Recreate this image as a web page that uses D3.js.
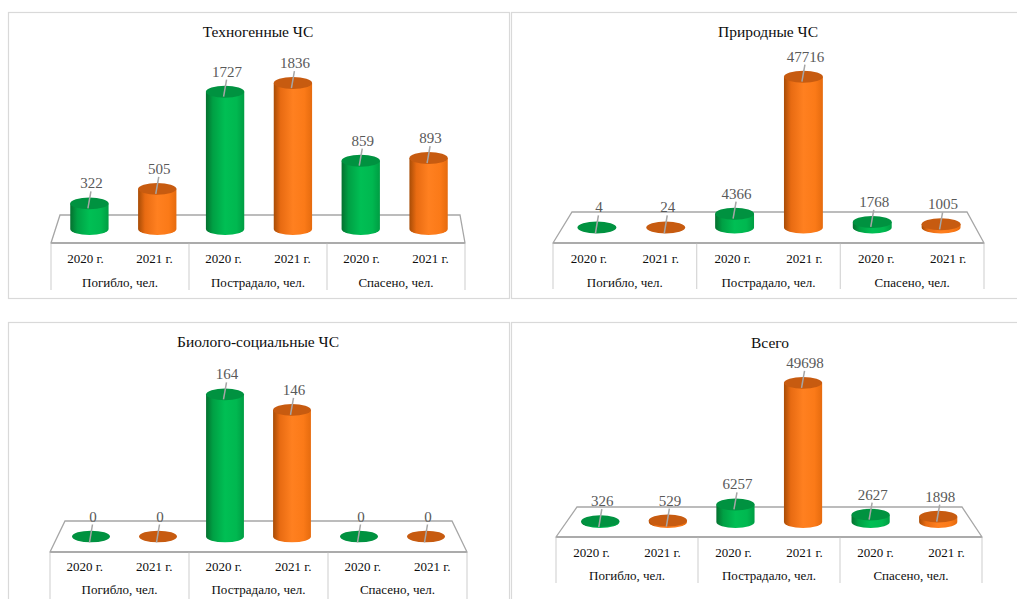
<!DOCTYPE html>
<html><head><meta charset="utf-8">
<script src="https://cdn.jsdelivr.net/npm/d3@7"></script>
<style>
html,body{margin:0;padding:0;background:#fff;overflow:hidden;}
svg{display:block;}
svg text{font-family:"Liberation Serif","Times New Roman",serif;}
</style></head>
<body>
<svg id="chart" width="1017" height="599"></svg>
<script>
// ---------- DATA ----------
const groups = ["Погибло, чел.", "Пострадало, чел.", "Спасено, чел."];
const years = ["2020 г.", "2021 г."];
const titles = ["Техногенные ЧС", "Природные ЧС", "Биолого-социальные ЧС", "Всего"];
const tech2020 = [322, 1727, 859];
const tech2021 = [505, 1836, 893];
const nat2020 = [4, 4366, 1768];
const nat2021 = [24, 47716, 1005];
const bio2020 = [0, 164, 0];
const bio2021 = [0, 146, 0];
const total2020 = [326, 6257, 2627];
const total2021 = [529, 49698, 1898];
const axisMax = [2000, 50000, 180, 50000];

// ---------- LAYOUT ----------
const layouts = [
  {box:[8,12,501,286], tx:258, ty:37, back:215, front:243, f:[51,465], b:[60,460], tb:290, ly1:263, ly2:287, h:159},
  {box:[511,12,530,286], tx:768, ty:37, back:212, front:243, f:[553,984], b:[572,967], tb:289, ly1:263, ly2:287, h:158},
  {box:[8,322,501,300], tx:258, ty:347, back:521, front:552, f:[50,467], b:[65,452], tb:599, ly1:571, ly2:594, h:156},
  {box:[511,322,530,300], tx:770, ty:348, back:507, front:537, f:[556,982], b:[577,962], tb:583, ly1:557, ly2:580, h:140}
];
const series = [[tech2020, tech2021],[nat2020, nat2021],[bio2020, bio2021],[total2020, total2021]];

const svg = d3.select("#chart");
const defs = svg.append("defs");
const palettes = {
  g: {stops:[["0%","#05702f"],["18%","#00a044"],["50%","#00bf54"],["80%","#00b850"],["100%","#009d43"]], top:"#009240"},
  o: {stops:[["0%","#a84c06"],["18%","#e86b12"],["50%","#ff8020"],["80%","#fb7a18"],["100%","#e66b0e"]], top:"#c75b10"}
};
Object.entries(palettes).forEach(([k,p])=>{
  const lg = defs.append("linearGradient").attr("id","grad-"+k).attr("x1","0%").attr("x2","100%").attr("y1","0%").attr("y2","0%");
  p.stops.forEach(s=>lg.append("stop").attr("offset",s[0]).attr("stop-color",s[1]));
});

const serif = '"Liberation Serif","Times New Roman",serif';

layouts.forEach((L, pi)=>{
  const g = svg.append("g");
  // panel border
  g.append("rect").attr("x",L.box[0]+0.5).attr("y",L.box[1]+0.5).attr("width",L.box[2]).attr("height",L.box[3])
    .attr("fill","#fff").attr("stroke","#d9d9d9").attr("stroke-width",1.2);
  // title
  g.append("text").attr("x",L.tx).attr("y",L.ty).attr("text-anchor","middle")
    .style("font-family",serif).style("font-size","15.5px").attr("fill","#0d0d0d").text(titles[pi]);

  const cats = [];
  groups.forEach((gr,gi)=>years.forEach((yr,yi)=>cats.push({key:gr+"|"+yr, gi, yi, year:yr, value:series[pi][yi][gi]})));

  const xFront = d3.scaleBand().domain(cats.map(c=>c.key)).range(L.f).padding(0);
  const xGroup = d3.scaleBand().domain(groups).range(L.f).padding(0);
  const xMid = d3.scaleBand().domain(cats.map(c=>c.key)).range([(L.f[0]+L.b[0])/2,(L.f[1]+L.b[1])/2]).padding(0);
  const base = (L.back+L.front)/2;
  const y = d3.scaleLinear().domain([0, axisMax[pi]]).range([base, base - L.h]);

  // floor
  g.append("path").attr("d",`M${L.f[0]},${L.front}L${L.b[0]},${L.back}L${L.b[1]},${L.back}L${L.f[1]},${L.front}Z`)
    .attr("fill","none").attr("stroke","#a6a6a6").attr("stroke-width",1.3);
  const bounds = [L.f[0], ...groups.slice(1).map(gr=>xGroup(gr)), L.f[1]];
  g.selectAll(".vl").data(bounds).join("line")
    .attr("x1",d=>d).attr("x2",d=>d).attr("y1",L.front).attr("y2",L.tb)
    .attr("stroke","#d9d9d9").attr("stroke-width",1.3);
  g.append("line").attr("x1",L.f[0]).attr("x2",L.f[1]).attr("y1",L.front).attr("y2",L.front)
    .attr("stroke","#a6a6a6").attr("stroke-width",1.3);

  const ax = g.append("g").attr("transform",`translate(0,${L.ly1})`)
    .call(d3.axisBottom(xFront).tickSize(0).tickPadding(0).tickFormat(k=>k.split("|")[1]));
  ax.attr("font-family",null).attr("font-size",null);
  ax.select(".domain").remove();
  ax.selectAll("text").style("font-family",serif).style("font-size","13px").attr("fill","#0d0d0d").attr("dy","0");
  const gx = g.append("g").attr("transform",`translate(0,${L.ly2})`)
    .call(d3.axisBottom(xGroup).tickSize(0).tickPadding(0));
  gx.attr("font-family",null).attr("font-size",null);
  gx.select(".domain").remove();
  gx.selectAll("text").style("font-family",serif).style("font-size","13px").attr("fill","#0d0d0d").attr("dy","0");

  cats.forEach(c=>{
    const cx = xMid(c.key) + xMid.bandwidth()/2;
    const w = xMid.bandwidth()*0.565;
    const rx = w/2, ry = w*0.155;
    const top = y(c.value);
    const p = c.yi===0 ? palettes.g : palettes.o;
    const gid = c.yi===0 ? "url(#grad-g)" : "url(#grad-o)";
    const cg = g.append("g");
    if (base - top > 0.5) {
      cg.append("path")
        .attr("d",`M${cx-rx},${top}L${cx-rx},${base}A${rx},${ry} 0 0 0 ${cx+rx},${base}L${cx+rx},${top}Z`)
        .attr("fill",gid);
    }
    cg.append("ellipse").attr("cx",cx).attr("cy",top).attr("rx",rx).attr("ry",ry).attr("fill",p.top);
    const ly = top - 15;
    g.append("line").attr("x1",cx+1.5).attr("y1",ly+3).attr("x2",cx-1.5).attr("y2",top+ (base-top<3 ? 6 : 5))
      .attr("stroke","#a6a6a6").attr("stroke-width",1.5);
    g.append("text").attr("x",cx+2).attr("y",ly).attr("text-anchor","middle")
      .style("font-family",serif).style("font-size","15px").attr("fill","#595959").text(d3.format("d")(c.value));
  });
});
</script>
</body></html>
